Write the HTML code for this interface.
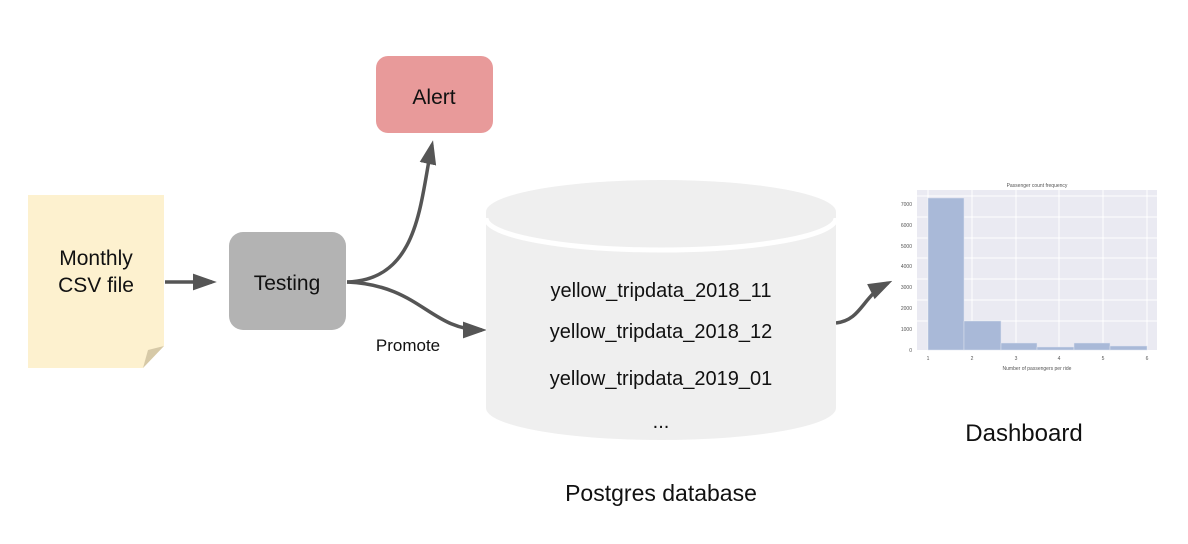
<!DOCTYPE html>
<html><head><style>body{margin:0;background:#fff}svg{display:block}text{font-family:"Liberation Sans",sans-serif;fill:#111}</style></head>
<body>
<svg width="1188" height="544" viewBox="0 0 1188 544">
<defs><marker id="b" viewBox="0 0 10 10" refX="8" refY="5" markerWidth="24" markerHeight="24" markerUnits="userSpaceOnUse" orient="auto"><path d="M0,1.5L10,5L0,8.5z" fill="#555"/></marker></defs>
<path d="M28,195H164V346L143,368H28Z" fill="#fdf1cf"/>
<path d="M164,346L143,368L148,350Z" fill="#d6c9a7"/>
<text x="96" y="265" font-size="21" text-anchor="middle">Monthly</text>
<text x="96" y="292" font-size="21" text-anchor="middle">CSV file</text>
<rect x="229" y="232" width="117" height="98" rx="14" fill="#b3b3b3"/>
<text x="287" y="290" font-size="21" text-anchor="middle">Testing</text>
<rect x="376" y="56" width="117" height="77" rx="12" fill="#e89a9a"/>
<text x="434" y="104" font-size="21" text-anchor="middle">Alert</text>
<g fill="none" stroke="#555" stroke-width="3.5">
<path d="M165,282H212" marker-end="url(#b)"/>
<path d="M347,282C420,280 420,200 432,145" marker-end="url(#b)"/>
<path d="M347,282C420,285 430,330 482,330" marker-end="url(#b)"/>
<path d="M836,323C862,320 862,296 888,283" marker-end="url(#b)"/>
</g>
<path d="M486,212A175,32 0 0 1 836,212V408A175,32 0 0 1 486,408Z" fill="#efefef"/>
<path d="M486,218A175,32 0 0 0 836,218" fill="none" stroke="#fff" stroke-width="5"/>
<g font-size="20" text-anchor="middle">
<text x="661" y="297">yellow_tripdata_2018_11</text>
<text x="661" y="338">yellow_tripdata_2018_12</text>
<text x="661" y="385">yellow_tripdata_2019_01</text>
<text x="661" y="428">...</text>
</g>
<text x="408" y="351" font-size="17" text-anchor="middle">Promote</text>
<text x="661" y="501" font-size="23" text-anchor="middle">Postgres database</text>
<text x="1024" y="441" font-size="24" text-anchor="middle">Dashboard</text>
<rect x="917" y="190" width="240" height="160" fill="#eaeaf2"/>
<g stroke="#fff" stroke-width="1"><path d="M917,321H1157M917,300H1157M917,279H1157M917,258H1157M917,238H1157M917,217H1157M917,196H1157M928,190V350M972,190V350M1016,190V350M1059,190V350M1103,190V350M1147,190V350"/></g>
<g fill="#a9b9d8" stroke="#dfe4ef" stroke-width="0.5">
<rect x="928" y="198" width="36" height="152"/><rect x="964" y="321" width="37" height="29"/><rect x="1001" y="343" width="36" height="7"/><rect x="1037" y="347" width="37" height="3"/><rect x="1074" y="343" width="36" height="7"/><rect x="1110" y="346" width="37" height="4"/></g>
<g font-size="5" style="fill:#555">
<text x="1037" y="187" text-anchor="middle" style="fill:#555">Passenger count frequency</text>
<text x="1037" y="370" text-anchor="middle" style="fill:#555">Number of passengers per ride</text>
<g text-anchor="end" style="fill:#555"><text x="912" y="206" style="fill:#555">7000</text><text x="912" y="227" style="fill:#555">6000</text><text x="912" y="248" style="fill:#555">5000</text><text x="912" y="268" style="fill:#555">4000</text><text x="912" y="289" style="fill:#555">3000</text><text x="912" y="310" style="fill:#555">2000</text><text x="912" y="331" style="fill:#555">1000</text><text x="912" y="352" style="fill:#555">0</text></g>
<g text-anchor="middle"><text x="928" y="360" style="fill:#555">1</text><text x="972" y="360" style="fill:#555">2</text><text x="1016" y="360" style="fill:#555">3</text><text x="1059" y="360" style="fill:#555">4</text><text x="1103" y="360" style="fill:#555">5</text><text x="1147" y="360" style="fill:#555">6</text></g>
</g>
</svg>
</body></html>
